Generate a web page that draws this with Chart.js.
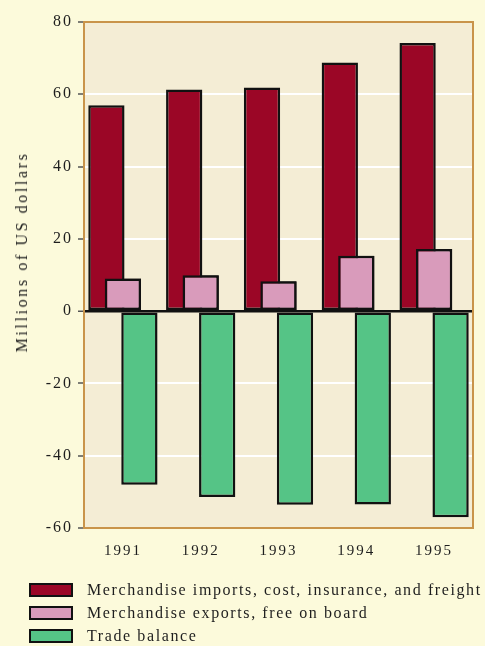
<!DOCTYPE html>
<html>
<head>
<meta charset="utf-8">
<script src="https://cdn.jsdelivr.net/npm/chart.js@4.4.1/dist/chart.umd.min.js"></script>
<style>
  html, body { margin: 0; padding: 0; background: #fcfadb; }
  #wrap { position: relative; width: 485px; height: 646px; overflow: hidden; }
  #c { position: absolute; left: 0; top: 0; }
  #legend {
    position: absolute; left: 29px; top: 578px;
    font-family: "Liberation Serif", "Times New Roman", serif;
    font-size: 16px; letter-spacing: 1.6px; color: #1e1e1e;
  }
  .item { display: flex; align-items: center; height: 23px; white-space: nowrap; }
  .swatch { width: 40px; height: 10px; border: 2px solid #111; margin-right: 14px; flex: none; }
  #ytitle {
    position: absolute; left: 22px; top: 252px;
    transform: translate(-50%, -50%) rotate(-90deg);
    font-family: "Liberation Serif", "Times New Roman", serif;
    font-size: 16px; letter-spacing: 2.6px; color: #1e1e1e; white-space: nowrap;
  }
</style>
</head>
<body>
<div id="wrap">
  <canvas id="c" width="485" height="646"></canvas>
  <div id="ytitle"></div>
  <div id="legend"></div>
</div>
<script>
// Merchandise trade, millions of US dollars
const years = ['1991', '1992', '1993', '1994', '1995'];
const importsCIF = [57.0, 61.3, 61.9, 68.8, 74.2];
const exportsFOB = [9.0, 9.9, 8.3, 15.3, 17.2];
const tradeBalance = [-48.0, -51.4, -53.6, -53.5, -57.0];
const seriesNames = [
  'Merchandise imports, cost, insurance, and freight',
  'Merchandise exports, free on board',
  'Trade balance'
];
const yTitle = 'Millions of US dollars';
const yMin = -60, yMax = 80, yStep = 20;

const colors = ['#9b0626', '#d99bbb', '#55c486'];
const serif = '"Liberation Serif", "Times New Roman", serif';

// plot background, frame, overlap order and wide letter spacing for canvas text
const framePlugin = {
  id: 'frame',
  beforeDraw(chart) {
    const { ctx, chartArea: a } = chart;
    ctx.letterSpacing = '2px';
    ctx.save();
    ctx.fillStyle = '#f4edd5';
    ctx.fillRect(a.left, a.top, a.right - a.left, a.bottom - a.top);
    ctx.restore();
  },
  afterDatasetsDraw(chart) {
    const { ctx, chartArea: a } = chart;
    // exports sit in front of the overlapping imports bars
    chart.getDatasetMeta(1).controller.draw();
    ctx.save();
    ctx.strokeStyle = '#c9944a';
    ctx.lineWidth = 2;
    ctx.strokeRect(a.left, a.top, a.right - a.left, a.bottom - a.top);
    ctx.restore();
  }
};

const series = [importsCIF, exportsFOB, tradeBalance];

new Chart(document.getElementById('c'), {
  type: 'bar',
  data: {
    labels: years,
    datasets: series.map((d, i) => ({
      label: seriesNames[i],
      data: d,
      backgroundColor: colors[i],
      borderColor: '#111',
      borderWidth: 2.5,
      borderSkipped: false,
      categoryPercentage: 0.636,
      barPercentage: 2.2
    }))
  },
  options: {
    responsive: false,
    devicePixelRatio: 1,
    animation: false,
    layout: { padding: { top: 22, right: 12, bottom: 0, left: 0 } },
    plugins: { legend: { display: false }, tooltip: { enabled: false } },
    scales: {
      x: {
        grid: { display: false },
        border: { display: false },
        ticks: { color: '#1e1e1e', font: { family: serif, size: 15 }, padding: 6 },
        afterFit(s) { s.height = 118; }
      },
      y: {
        min: yMin, max: yMax,
        border: { display: false },
        grid: {
          color: c => c.tick.value === 0 ? '#111' : (c.tick.value === yMin || c.tick.value === yMax ? 'rgba(0,0,0,0)' : '#ffffff'),
          lineWidth: c => c.tick.value === 0 ? 2.5 : 2,
          tickColor: '#555',
          tickLength: 6,
          tickWidth: 1.5
        },
        ticks: { stepSize: yStep, color: '#1e1e1e', font: { family: serif, size: 16 }, padding: 5 },
        afterFit(s) { s.width = 84; }
      }
    }
  },
  plugins: [framePlugin]
});

document.getElementById('ytitle').textContent = yTitle;

// legend rows
const legend = document.getElementById('legend');
seriesNames.forEach((name, i) => {
  const row = document.createElement('div');
  row.className = 'item';
  const sw = document.createElement('span');
  sw.className = 'swatch';
  sw.style.background = colors[i];
  const tx = document.createElement('span');
  tx.textContent = name;
  row.appendChild(sw);
  row.appendChild(tx);
  legend.appendChild(row);
});
</script>
</body>
</html>
